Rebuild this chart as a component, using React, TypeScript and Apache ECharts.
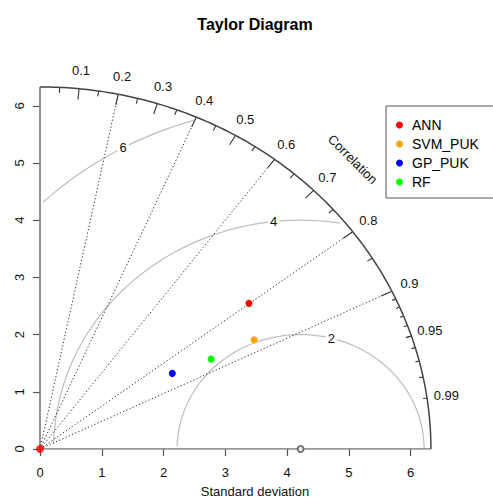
import React, { useEffect, useRef } from "react";
import * as echarts from "echarts";

// ---- data ----
const models = ["ANN", "SVM_PUK", "GP_PUK", "RF"];
const modelSd = [4.234, 3.958, 2.518, 3.186];
const modelCor = [0.799, 0.876, 0.851, 0.87];
const modelColors = ["#FF0000", "#FFA500", "#0000FF", "#00FF00"];
const refSd = 4.22;
const originPoint = [0, 0];
const sdTicks = [0, 1, 2, 3, 4, 5, 6];
const corLabels = [0.1, 0.2, 0.3, 0.4, 0.5, 0.6, 0.7, 0.8, 0.9, 0.95, 0.99];
const corBigTicks = [0.1, 0.2, 0.3, 0.4, 0.5, 0.6, 0.7, 0.8, 0.9];
const corMedTicks = [0.05, 0.15, 0.25, 0.35, 0.45, 0.55, 0.65, 0.75, 0.85, 0.95];
const corSmallTicks = [0.91, 0.92, 0.93, 0.94, 0.95, 0.96, 0.97, 0.98, 0.99];
const corLines = [0.2, 0.4, 0.6, 0.8, 0.9];
const rmsLevels = [2, 4, 6];
const rmsLabelIndex = [45, 57, 70];

const FONT = "'Liberation Sans', Arial, sans-serif";

function polar(r: number, c: number): [number, number] {
  return [r * c, r * Math.sqrt(Math.max(0, 1 - c * c))];
}

export default function App() {
  const ref = useRef<HTMLDivElement>(null);
  useEffect(() => {
    if (!ref.current) return;
    const chart = echarts.init(ref.current, undefined, { renderer: "svg" });
    const maxsd = 1.5 * refSd;
    const xMax = 1.1 * maxsd;

    // outer arc
    const arc: [number, number][] = [];
    for (let i = 0; i <= 180; i++) {
      const t = (i / 180) * (Math.PI / 2);
      arc.push([maxsd * Math.cos(t), maxsd * Math.sin(t)]);
    }

    // tick segments
    const tickSegs: any[] = [];
    const addTicks = (vals: number[], f: number) =>
      vals.forEach((c) => tickSegs.push({ coords: [polar(maxsd, c), polar(maxsd * f, c)] }));
    addTicks(corBigTicks, 0.97);
    addTicks(corMedTicks, 0.985);
    addTicks(corSmallTicks, 0.99);

    const corLineSegs = corLines.map((c) => ({ coords: [[0, 0], polar(maxsd, c)] }));

    const axisSegs = [
      { coords: [[0, 0], [maxsd, 0]] },
      { coords: [[0, 0], [0, maxsd]] },
    ];

    // RMS contours (plotrix algorithm)
    const rmsSeries: any[] = [];
    const rmsLabelData: any[] = [];
    rmsLevels.forEach((g, gi) => {
      const xs: number[] = [];
      const ys: number[] = [];
      for (let t = 0; t <= Math.PI + 1e-9; t += 0.03) {
        xs.push(Math.cos(t) * g + refSd);
        ys.push(Math.sin(t) * g);
      }
      let end = xs.findIndex((x) => x < 0);
      end = end >= 0 ? end - 1 : xs.length - 1;
      let start = -1;
      xs.forEach((x, i) => {
        if (x * x + ys[i] * ys[i] > maxsd * maxsd) start = i;
      });
      start = start + 1;
      const pts: [number, number][] = [];
      for (let i = start; i <= end; i++) pts.push([xs[i], ys[i]]);
      rmsSeries.push({
        type: "line",
        data: pts,
        symbol: "none",
        silent: true,
        lineStyle: { color: "#bdbdbd", width: 1.2 },
        z: 2,
      });
      const li = rmsLabelIndex[gi] - 1;
      if (xs[li] > 0) rmsLabelData.push({ value: [xs[li], ys[li]], name: String(g) });
    });

    const corLabelData = corLabels.map((c) => ({
      value: polar(maxsd * 1.05, c),
      name: String(c),
    }));

    const textScatter = (data: any[], extra: any = {}) => ({
      type: "scatter",
      data,
      symbolSize: 0.01,
      silent: true,
      itemStyle: { color: "transparent" },
      label: {
        show: true,
        position: "inside",
        formatter: (p: any) => p.name,
        color: "#111",
        opacity: 1,
        textBorderWidth: 0,
        fontSize: 13,
        fontFamily: FONT,
        ...extra,
      },
      z: 5,
    });

    const option: any = {
      animation: false,
      title: {
        text: "Taylor Diagram",
        left: 250,
        textAlign: "center",
        top: 11,
        textStyle: { fontSize: 16, fontWeight: "bold", color: "#000", fontFamily: FONT },
      },
      legend: {
        data: models,
        orient: "vertical",
        left: 386,
        top: 106,
        borderColor: "#555",
        borderWidth: 1,
        padding: [12, 40, 9, 10],
        itemWidth: 7,
        itemHeight: 7,
        itemGap: 5,
        icon: "circle",
        textStyle: { fontSize: 14, lineHeight: 14, color: "#000", fontFamily: FONT, padding: [0, 0, 0, 4] },
      },
      grid: { left: 40, right: 23, top: 50.7, bottom: 48, containLabel: false, outerBoundsMode: "none" },
      xAxis: {
        type: "value",
        min: 0,
        max: xMax,
        interval: 1,
        name: "Standard deviation",
        nameLocation: "middle",
        nameGap: 35.5,
        nameTextStyle: { fontSize: 13, color: "#111", fontFamily: FONT },
        axisLine: { show: false },
        axisTick: { show: true, length: 7, lineStyle: { color: "#555", width: 1.2 }, customValues: sdTicks },
        axisLabel: { fontSize: 13, color: "#111", fontFamily: FONT, margin: 16.5, customValues: sdTicks },
        splitLine: { show: false },
      },
      yAxis: {
        type: "value",
        min: 0,
        max: xMax,
        interval: 1,
        axisLine: { show: false },
        axisTick: { show: true, length: 7, lineStyle: { color: "#555", width: 1.2 }, customValues: sdTicks },
        axisLabel: { fontSize: 13, color: "#111", fontFamily: FONT, margin: 14, rotate: 90, customValues: sdTicks },
        splitLine: { show: false },
      },
      series: [
        ...rmsSeries,
        {
          type: "lines",
          coordinateSystem: "cartesian2d",
          data: corLineSegs,
          silent: true,
          lineStyle: { color: "#333", width: 1, opacity: 1, type: [1.3, 2.2] },
          z: 3,
        },
        {
          type: "lines",
          coordinateSystem: "cartesian2d",
          data: axisSegs,
          silent: true,
          lineStyle: { color: "#777", width: 1.6, opacity: 1 },
          z: 3,
        },
        {
          type: "lines",
          coordinateSystem: "cartesian2d",
          data: tickSegs,
          silent: true,
          lineStyle: { color: "#333", width: 1.1, opacity: 1 },
          z: 3,
        },
        {
          type: "line",
          data: arc,
          symbol: "none",
          silent: true,
          lineStyle: { color: "#444", width: 1.5 },
          z: 3,
        },
        textScatter(rmsLabelData, { backgroundColor: "#fff", padding: [0, 2] }),
        textScatter(corLabelData),
        textScatter([{ value: [maxsd * 0.8, maxsd * 0.8], name: "Correlation" }], { rotate: -45 }),
        {
          type: "scatter",
          data: [[refSd, 0]],
          symbol: "emptyCircle",
          symbolSize: 6,
          silent: true,
          itemStyle: { color: "#555", borderWidth: 1.2 },
          z: 6,
        },
        {
          type: "scatter",
          data: [originPoint],
          symbolSize: 8,
          silent: true,
          itemStyle: { color: modelColors[0] },
          z: 6,
        },
        ...models.map((m, i) => ({
          type: "scatter",
          name: m,
          data: [polar(modelSd[i], modelCor[i])],
          symbolSize: 7,
          itemStyle: { color: modelColors[i], opacity: 1 },
          z: 7,
        })),
      ],
    };
    chart.setOption(option);
    return () => chart.dispose();
  }, []);
  return <div ref={ref} style={{ width: 493, height: 497, position: "absolute", left: 0, top: 0 }} />;
}
